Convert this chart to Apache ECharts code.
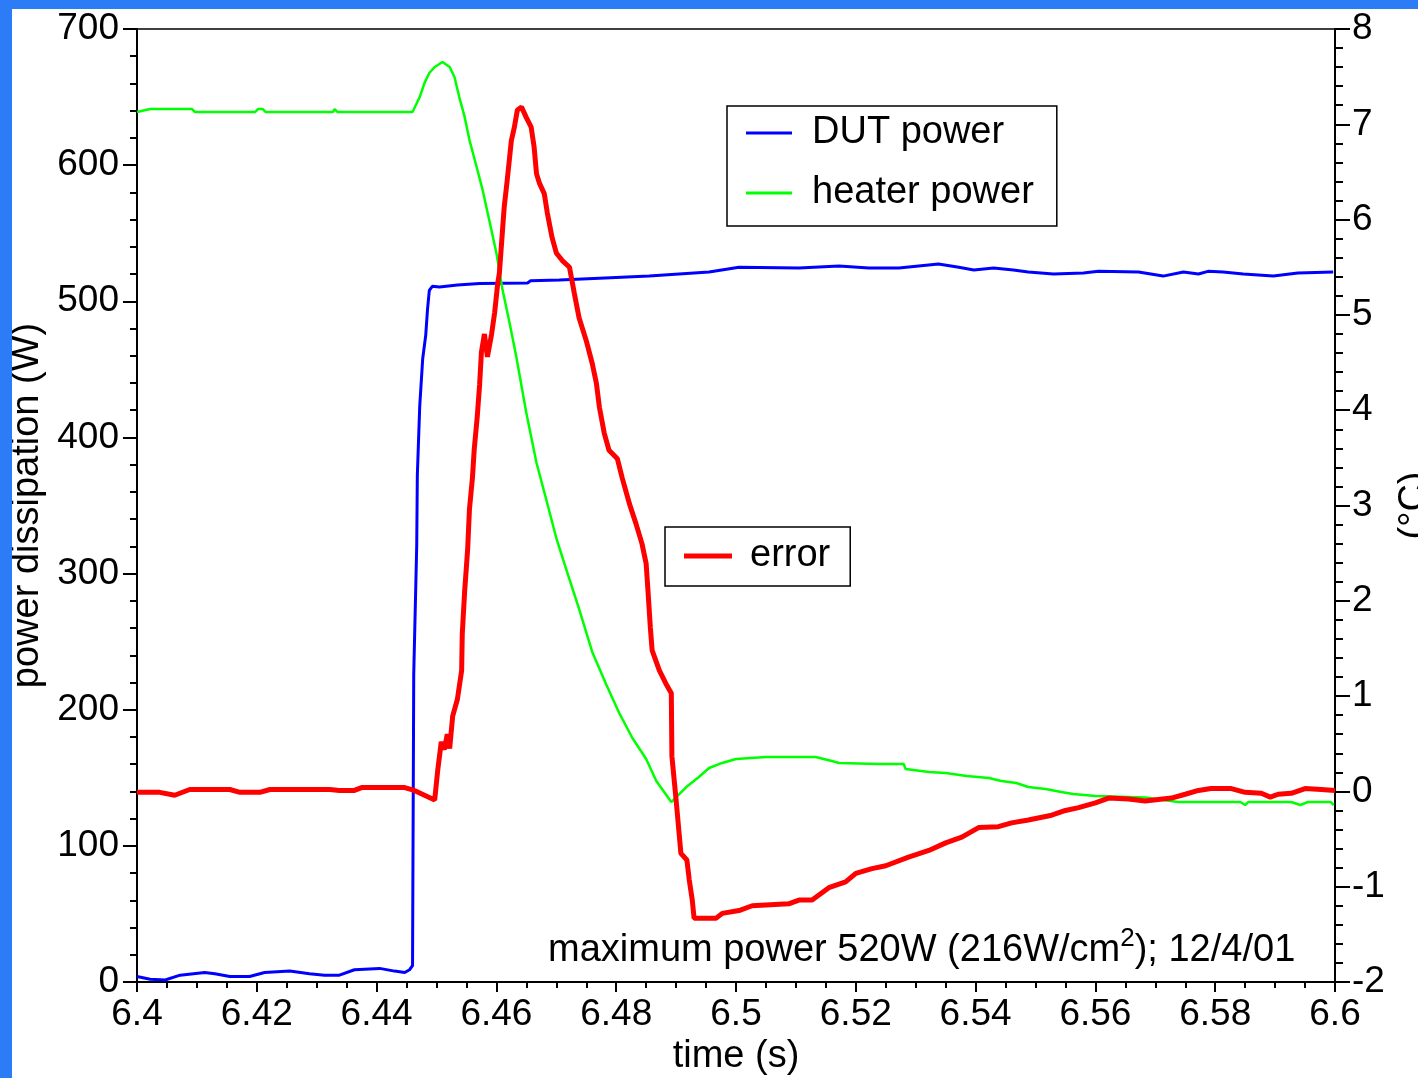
<!DOCTYPE html>
<html>
<head>
<meta charset="utf-8">
<script src="https://cdn.jsdelivr.net/npm/echarts@6/dist/echarts.min.js"></script>
<style>
html,body{margin:0;padding:0;background:#2b7cf6;width:1418px;height:1078px;overflow:hidden}
#main{position:absolute;left:12px;top:9px;width:1406px;height:1069px;background:#fff}
</style>
</head>
<body>
<div id="main"></div>
<script>
// DUT power (W), left axis
var dutTime = [6.4, 6.4022, 6.4047, 6.4072, 6.4113, 6.413, 6.4155, 6.4188, 6.4213, 6.4255, 6.4288, 6.4313, 6.4338, 6.4363, 6.4405, 6.443, 6.4447, 6.4455, 6.446,
  6.4462, 6.4467, 6.4468, 6.4472, 6.4477, 6.4482, 6.4485, 6.4488, 6.4493, 6.4505, 6.4535, 6.4572, 6.4652, 6.4657, 6.4705, 6.4772, 6.4855,
  6.4955, 6.5005, 6.5105, 6.5172, 6.5222, 6.5272, 6.5338, 6.5372, 6.5397, 6.543, 6.5463, 6.5488, 6.553, 6.558, 6.5605, 6.5672, 6.5713,
  6.5747, 6.5772, 6.5788, 6.5813, 6.5847, 6.5897, 6.5938, 6.5997];
var dutPower = [4, 2, 1.5, 5, 7, 6, 4, 4, 7, 8, 6, 5, 5, 9, 10, 8, 7, 9, 12,
  226, 321, 372, 423, 458, 475, 494, 508, 511, 510.5, 512, 513, 513.5, 515, 515.6, 517, 518.5,
  521.5, 525, 524.5, 526, 524.5, 524.5, 527.4, 525, 523, 524.5, 523, 521.5, 520, 520.8, 522, 521.5, 518.5,
  521.5, 520, 522, 521.5, 520, 518.5, 520.8, 521.5];

// heater power (W), left axis
var heaterTime = [6.4, 6.4022, 6.4092, 6.4097, 6.4197, 6.4202, 6.421, 6.4215, 6.4327, 6.433, 6.4335, 6.446,
  6.4472, 6.448, 6.4488, 6.4497, 6.451, 6.4522, 6.453, 6.4538, 6.4547, 6.4555, 6.4567, 6.4577, 6.4588, 6.46,
  6.461, 6.4622, 6.4633, 6.465, 6.4667, 6.4683, 6.47, 6.4717, 6.4738, 6.476, 6.4783, 6.4805, 6.4827, 6.485,
  6.4867, 6.4892, 6.4917, 6.4938, 6.4955, 6.4977, 6.5, 6.505, 6.5133, 6.516, 6.5172, 6.5238, 6.528, 6.5283,
  6.5322, 6.535, 6.5385, 6.5422, 6.5443, 6.5468, 6.5488, 6.5517, 6.5543, 6.5563, 6.56, 6.5683, 6.5738,
  6.5842, 6.585, 6.5855, 6.5927, 6.5942, 6.5955, 6.5993, 6.5998];
var heaterPower = [639, 641.2, 641.2, 639, 639, 641.2, 641.2, 639, 639, 641.2, 639, 639,
  650, 660.4, 667.7, 672.1, 675.8, 672.1, 664.8, 650, 635.4, 618.5, 598.6, 581.8, 559.7, 535.5,
  509, 484, 459.8, 418, 381.2, 354.8, 326.1, 302.6, 274, 242.4, 218.9, 197.6, 179.2, 163.8,
  147.6, 132.2, 143.2, 150.6, 157.2, 160.9, 163.8, 165.3, 165.3, 162.3, 160.9, 160.1, 160.1, 156.5,
  154.3, 153.5, 151.3, 149.8, 147.6, 146.2, 143.2, 141.8, 139.6, 138.1, 136.6, 135.5, 132.2,
  132.2, 130, 132.2, 132.2, 130, 132.2, 132.2, 130];

// error (°C), right axis
var errorTime = [6.4, 6.4038, 6.4063, 6.4088, 6.4155, 6.4172, 6.4205, 6.4222, 6.4322, 6.4338, 6.4363, 6.4375, 6.4447, 6.4463, 6.448, 6.4497,
  6.4502, 6.4508, 6.4513, 6.4518, 6.4522, 6.4527, 6.4535, 6.4542, 6.4543, 6.4547, 6.4552, 6.4555, 6.456, 6.4563, 6.4568,
  6.4572, 6.4575, 6.458, 6.4585, 6.4592, 6.4597, 6.4602, 6.4605, 6.4613, 6.4618, 6.4625, 6.463, 6.4635, 6.4642, 6.465,
  6.4658, 6.4663, 6.4667, 6.4672, 6.468, 6.4685, 6.4693, 6.47, 6.471, 6.4722, 6.473, 6.4738, 6.475, 6.476, 6.4767,
  6.4772, 6.478, 6.4788, 6.4802, 6.481, 6.4822, 6.4833, 6.4843, 6.485, 6.4853, 6.4857, 6.486, 6.4872, 6.4883, 6.4892,
  6.4893, 6.49, 6.4905, 6.4908, 6.4918, 6.4922, 6.4927, 6.493, 6.4967, 6.4977, 6.5005, 6.5027, 6.5088, 6.5105, 6.5127,
  6.5155, 6.5183, 6.52, 6.5227, 6.525, 6.5288, 6.5322, 6.535, 6.5377, 6.5405, 6.5438, 6.546, 6.5488, 6.5527, 6.555,
  6.5572, 6.56, 6.5622, 6.5655, 6.5683, 6.5727, 6.575, 6.5772, 6.5793, 6.5827, 6.585, 6.5877, 6.5892, 6.5905, 6.5927,
  6.595, 6.5977, 6.6];
var errorTemp = [-0.01, -0.01, -0.04, 0.02, 0.02, -0.01, -0.01, 0.02, 0.02, 0.01, 0.01, 0.04, 0.04, 0.01, -0.04, -0.09,
  0.22, 0.52, 0.44, 0.6, 0.45, 0.79, 0.97, 1.27, 1.65, 2.1, 2.54, 2.96, 3.29, 3.59, 3.93,
  4.27, 4.61, 4.8, 4.56, 4.8, 5.02, 5.32, 5.44, 6.13, 6.41, 6.83, 6.97, 7.15, 7.18, 7.07,
  6.97, 6.76, 6.48, 6.38, 6.27, 6.07, 5.81, 5.65, 5.57, 5.5, 5.23, 4.97, 4.73, 4.49, 4.28,
  4.03, 3.76, 3.58, 3.49, 3.29, 3.02, 2.81, 2.6, 2.39, 2.11, 1.72, 1.48, 1.27, 1.13, 1.03,
  0.37, -0.09, -0.44, -0.65, -0.72, -0.93, -1.14, -1.33, -1.33, -1.28, -1.25, -1.2, -1.18, -1.14, -1.14,
  -1.01, -0.95, -0.86, -0.81, -0.78, -0.69, -0.62, -0.54, -0.48, -0.38, -0.37, -0.33, -0.3, -0.25, -0.2,
  -0.17, -0.12, -0.07, -0.08, -0.1, -0.07, -0.03, 0.01, 0.03, 0.03, -0.01, -0.02, -0.06, -0.03, -0.02,
  0.03, 0.02, 0.01];

var FONT = "'Liberation Sans', Arial, Helvetica, sans-serif";

function pairs(xs, ys) {
    var out = [];
    for (var i = 0; i < xs.length; i++) {
        out.push([xs[i], ys[i]]);
    }
    return out;
}

function drawChart() {
    var myChart = echarts.init(document.getElementById("main"));
    var option = {
        animation: false,
        textStyle: { fontFamily: FONT },
        grid: {
            left: 125, right: 83, top: 20, bottom: 96,
            containLabel: false,
            outerBoundsMode: 'none',
            show: true,
            borderColor: '#000',
            borderWidth: 1.5,
            backgroundColor: '#fff'
        },
        legend: [{
            data: [{ name: 'DUT power', icon: 'rect' }, { name: 'heater power', icon: 'rect' }],
            orient: 'vertical',
            left: 715, top: 97,
            padding: [7, 23, 13, 19],
            itemGap: 20,
            itemWidth: 46,
            itemHeight: 3,
            borderColor: '#000',
            borderWidth: 1.5,
            backgroundColor: '#fff',
            textStyle: { fontSize: 38, color: '#000', fontFamily: FONT, lineHeight: 40, padding: [0, 0, 0, 15] }
        }, {
            data: [{ name: 'error', icon: 'rect' }],
            orient: 'vertical',
            left: 653, top: 518,
            padding: [9, 20, 10, 19],
            itemWidth: 48,
            itemHeight: 5,
            borderColor: '#000',
            borderWidth: 1.5,
            backgroundColor: '#fff',
            textStyle: { fontSize: 38, color: '#000', fontFamily: FONT, lineHeight: 40, padding: [0, 0, 0, 13] }
        }],
        xAxis: {
            type: 'value',
            min: 6.4, max: 6.6, interval: 0.02,
            name: 'time (s)',
            nameLocation: 'middle',
            nameGap: 56,
            nameTextStyle: { fontSize: 38, color: '#000', fontFamily: FONT },
            axisLine: { lineStyle: { color: '#000', width: 2 } },
            axisTick: { length: 10, lineStyle: { color: '#000', width: 2 } },
            minorTick: { show: true, splitNumber: 4, length: 6, lineStyle: { color: '#000', width: 2 } },
            splitLine: { show: false },
            axisLabel: { fontSize: 37, color: '#000', margin: 14, fontFamily: FONT }
        },
        yAxis: [{
            type: 'value',
            min: 0, max: 700, interval: 100,
            name: 'power dissipation (W)',
            nameLocation: 'middle',
            nameGap: 90,
            nameTextStyle: { fontSize: 38, color: '#000', fontFamily: FONT },
            axisLine: { show: true, lineStyle: { color: '#000', width: 2 } },
            axisTick: { show: true, length: 14, lineStyle: { color: '#000', width: 2 } },
            minorTick: { show: true, splitNumber: 5, length: 7, lineStyle: { color: '#000', width: 2 } },
            splitLine: { show: false },
            axisLabel: { fontSize: 37, color: '#000', margin: 18, fontFamily: FONT }
        }, {
            type: 'value',
            position: 'right',
            min: -2, max: 8, interval: 1,
            name: '(°C)',
            nameLocation: 'middle',
            nameGap: 55,
            nameTextStyle: { fontSize: 38, color: '#000', fontFamily: FONT },
            axisLine: { show: true, lineStyle: { color: '#000', width: 2 } },
            axisTick: { show: true, length: 15, lineStyle: { color: '#000', width: 2 } },
            minorTick: { show: true, splitNumber: 5, length: 8, lineStyle: { color: '#000', width: 2 } },
            splitLine: { show: false },
            axisLabel: { fontSize: 37, color: '#000', margin: 17, fontFamily: FONT }
        }],
        graphic: [{
            type: 'text',
            left: 536, top: 917,
            z: 50,
            style: {
                text: '{a|maximum power 520W (216W/cm}{s|2}{a|); 12/4/01}',
                rich: {
                    a: { fontSize: 38, fontFamily: FONT, fill: '#000', lineHeight: 44, verticalAlign: 'bottom' },
                    s: { fontSize: 26, fontFamily: FONT, fill: '#000', lineHeight: 44, verticalAlign: 'top' }
                }
            }
        }],
        series: [{
            name: 'DUT power',
            type: 'line',
            yAxisIndex: 0,
            symbol: 'none',
            color: '#0000ff',
            lineStyle: { color: '#0000ff', width: 3 },
            data: pairs(dutTime, dutPower)
        }, {
            name: 'heater power',
            type: 'line',
            yAxisIndex: 0,
            symbol: 'none',
            color: '#00ff00',
            lineStyle: { color: '#00ff00', width: 2.5 },
            data: pairs(heaterTime, heaterPower)
        }, {
            name: 'error',
            type: 'line',
            yAxisIndex: 1,
            symbol: 'none',
            color: '#ff0000',
            lineStyle: { color: '#ff0000', width: 5 },
            data: pairs(errorTime, errorTemp)
        }]
    };
    myChart.setOption(option);
}

drawChart();
</script>
</body>
</html>
